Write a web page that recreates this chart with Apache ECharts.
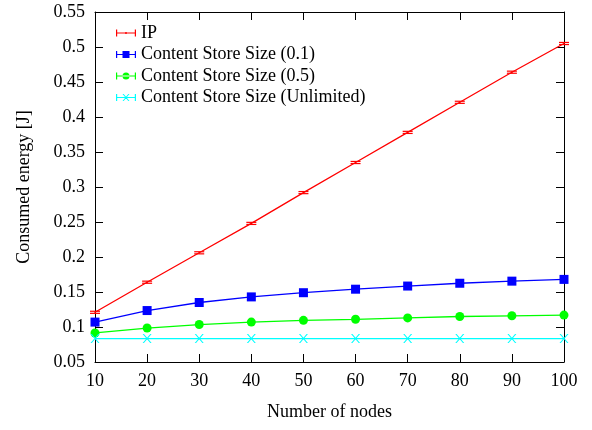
<!DOCTYPE html>
<html>
<head>
<meta charset="utf-8">
<script src="https://cdn.jsdelivr.net/npm/echarts@6/dist/echarts.min.js"></script>
<style>
  html, body { margin: 0; padding: 0; background: #fff; }
  #chart { width: 592px; height: 430px; }
</style>
</head>
<body>
<div id="chart"></div>
<script>
// Number of nodes in the network
const nodes = [10, 20, 30, 40, 50, 60, 70, 80, 90, 100];

// Consumed energy [J] per configuration
const ipEnergy = [0.121, 0.164, 0.206, 0.248, 0.292, 0.335, 0.378, 0.421, 0.464, 0.505];
const ipError = [0.0015, 0.0015, 0.0015, 0.0015, 0.0015, 0.0015, 0.0015, 0.0015, 0.0015, 0.0015];
const cs01 = [0.107, 0.1235, 0.135, 0.143, 0.149, 0.154, 0.1585, 0.1625, 0.1655, 0.168];
const cs05 = [0.0915, 0.0985, 0.1035, 0.107, 0.1095, 0.111, 0.113, 0.115, 0.116, 0.117];
const csUnlimited = [0.0835, 0.0835, 0.0835, 0.0835, 0.0835, 0.0835, 0.0835, 0.0835, 0.0835, 0.0835];

const seriesNames = ['IP', 'Content Store Size (0.1)', 'Content Store Size (0.5)', 'Content Store Size (Unlimited)'];
const seriesColors = ['#ff0000', '#0000ff', '#00ff00', '#00ffff'];

const FONT = '"Liberation Serif", "Times New Roman", serif';

// Legend icons: a line with error-bar caps, plus the series marker
const lineWithCaps = 'M0,4.4 L20,4.4 L20,5.6 L0,5.6 Z M0,1.5 L1.2,1.5 L1.2,8.5 L0,8.5 Z M18.8,1.5 L20,1.5 L20,8.5 L18.8,8.5 Z';
const legendIcons = [
  'path://' + lineWithCaps + ' M9.3,4 L10.7,4 L10.7,6 L9.3,6 Z',
  'path://' + lineWithCaps + ' M6.5,1.5 L13.5,1.5 L13.5,8.5 L6.5,8.5 Z',
  'path://' + lineWithCaps + ' M13.5,5 A3.5,3.5 0 1,0 6.5,5 A3.5,3.5 0 1,0 13.5,5 Z',
  'path://' + lineWithCaps + ' M6.5,1.5 L7.7,1.5 L13.5,8.5 L12.3,8.5 Z M12.3,1.5 L13.5,1.5 L7.7,8.5 L6.5,8.5 Z'
];

const pairs = arr => nodes.map((n, i) => [n, arr[i]]);

const tickFmt = v => String(+v.toFixed(2));

const chart = echarts.init(document.getElementById('chart'), null, { renderer: 'canvas' });

const axisCommon = {
  axisLine: { show: true, onZero: false, lineStyle: { color: '#000', width: 1 } },
  axisTick: { show: true, inside: true, length: 8, lineStyle: { color: '#000', width: 1 } },
  splitLine: { show: false }
};

chart.setOption({
  animation: false,
  backgroundColor: '#ffffff',
  textStyle: { fontFamily: FONT },
  grid: { left: 95, right: 28, top: 12, bottom: 68 },
  legend: {
    orient: 'vertical',
    left: 111,
    top: 19,
    itemWidth: 20,
    itemHeight: 10,
    itemGap: 3.5,
    textStyle: { fontFamily: FONT, fontSize: 18, color: '#000' },
    data: seriesNames.map((n, i) => ({ name: n, icon: legendIcons[i], itemStyle: { color: seriesColors[i] } }))
  },
  xAxis: [
    Object.assign({
      type: 'value', min: 10, max: 100, interval: 10, position: 'bottom',
      name: 'Number of nodes', nameLocation: 'middle', nameGap: 41,
      nameTextStyle: { fontFamily: FONT, fontSize: 18, color: '#000' },
      axisLabel: { fontFamily: FONT, fontSize: 18, color: '#000', margin: 10 }
    }, axisCommon),
    Object.assign({
      type: 'value', min: 10, max: 100, interval: 10, position: 'top',
      axisLabel: { show: false }
    }, axisCommon)
  ],
  yAxis: [
    Object.assign({
      type: 'value', min: 0.05, max: 0.55, interval: 0.05, position: 'left',
      name: 'Consumed energy [J]', nameLocation: 'middle', nameGap: 62,
      nameTextStyle: { fontFamily: FONT, fontSize: 18, color: '#000' },
      axisLabel: { fontFamily: FONT, fontSize: 18, color: '#000', margin: 10, formatter: tickFmt }
    }, axisCommon),
    Object.assign({
      type: 'value', min: 0.05, max: 0.55, interval: 0.05, position: 'right',
      axisLabel: { show: false }
    }, axisCommon)
  ],
  series: [
    {
      name: seriesNames[0], type: 'line', data: pairs(ipEnergy),
      symbol: 'none', color: seriesColors[0], lineStyle: { width: 1.3 }, z: 3
    },
    {
      name: seriesNames[0] + ' error', type: 'custom',
      data: nodes.map((n, i) => [n, ipEnergy[i] - ipError[i], ipEnergy[i] + ipError[i]]),
      renderItem: function (params, api) {
        const lo = api.coord([api.value(0), api.value(1)]);
        const hi = api.coord([api.value(0), api.value(2)]);
        const hw = 5;
        const style = { stroke: seriesColors[0], lineWidth: 1.2, fill: null };
        return {
          type: 'group',
          children: [
            { type: 'line', shape: { x1: lo[0], y1: lo[1], x2: hi[0], y2: hi[1] }, style },
            { type: 'line', shape: { x1: lo[0] - hw, y1: lo[1], x2: lo[0] + hw, y2: lo[1] }, style },
            { type: 'line', shape: { x1: hi[0] - hw, y1: hi[1], x2: hi[0] + hw, y2: hi[1] }, style }
          ]
        };
      },
      z: 4, silent: true
    },
    {
      name: seriesNames[1], type: 'line', data: pairs(cs01),
      symbol: 'rect', symbolSize: 9, color: seriesColors[1], lineStyle: { width: 1.3 }, z: 3
    },
    {
      name: seriesNames[2], type: 'line', data: pairs(cs05),
      symbol: 'circle', symbolSize: 9, color: seriesColors[2], lineStyle: { width: 1.3 }, z: 3
    },
    {
      name: seriesNames[3], type: 'line', data: pairs(csUnlimited),
      symbol: 'path://M0,0 L1.5,0 L10,10 L8.5,10 Z M8.5,0 L10,0 L1.5,10 L0,10 Z',
      symbolSize: 9, color: seriesColors[3], lineStyle: { width: 1.3 }, z: 3
    }
  ]
});
</script>
</body>
</html>
